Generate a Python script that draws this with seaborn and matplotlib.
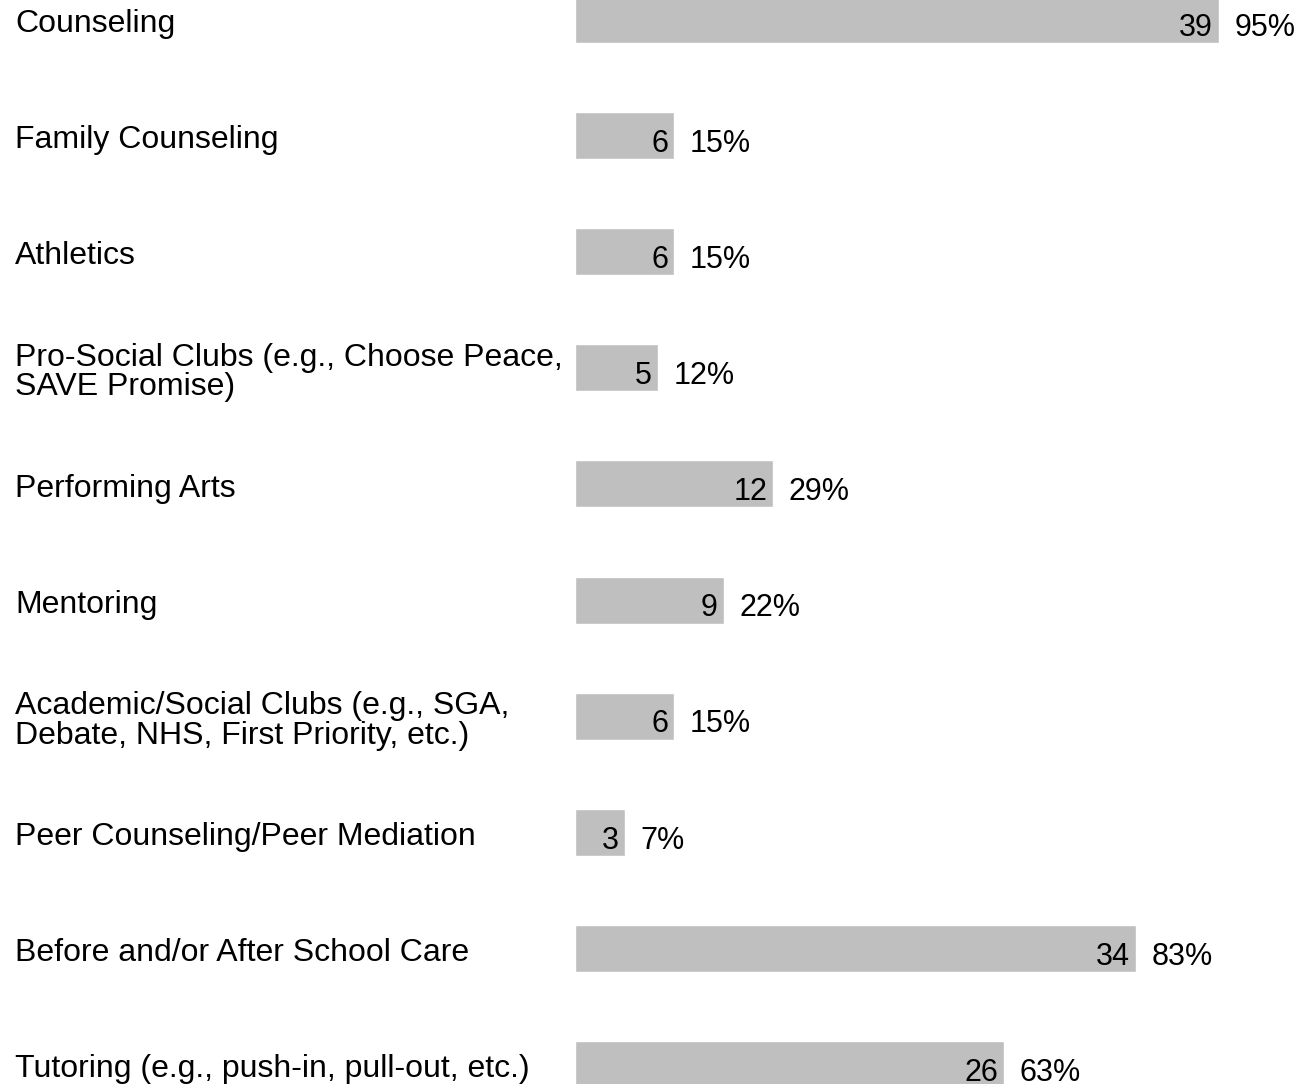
import matplotlib
matplotlib.use('Agg')
import matplotlib.pyplot as plt
import matplotlib.transforms as mtrans
import seaborn as sbn
import pandas as pd

programs = ['Counseling', 'Family Counseling', 'Athletics',
            'Pro-Social Clubs (e.g., Choose Peace,\nSAVE Promise)',
            'Performing Arts', 'Mentoring',
            'Academic/Social Clubs (e.g., SGA,\nDebate, NHS, First Priority, etc.)',
            'Peer Counseling/Peer Mediation', 'Before and/or After School Care',
            'Tutoring (e.g., push-in, pull-out, etc.)']
counts = [39, 6, 6, 5, 12, 9, 6, 3, 34, 26]
percents = [95, 15, 15, 12, 29, 22, 15, 7, 83, 63]

sbn.set_style('white')
plt.rcParams['font.family'] = ['Liberation Sans', 'DejaVu Sans']

df = pd.DataFrame({'Program': programs, 'Count': counts, 'Percent': percents})

fig = plt.figure(figsize=(13.01, 10.84), dpi=100)
ax = fig.add_axes([0, 0, 1, 1])
sbn.barplot(data=df, x='Count', y='Program', orient='h', color='#bfbfbf',
            saturation=1, width=0.405, ax=ax)

ax.set_xlim(-34.85, 44.0)
ax.set_ylim(9.168, -0.168)
ax.axis('off')

lbl = mtrans.blended_transform_factory(ax.transAxes, ax.transData)
for i, row in df.iterrows():
    ax.text(15 / 1301, i + 0.04, row['Program'], transform=lbl, ha='left', va='center',
            fontsize=23, linespacing=0.98, color='black')
    ax.text(row['Count'] - 0.36, i + 0.14, str(row['Count']), ha='right',
            va='baseline', fontsize=22, color='black')
    ax.text(row['Count'] + 0.95, i + 0.14, f"{row['Percent']}%", ha='left',
            va='baseline', fontsize=22, color='black')

fig.savefig('out.png', dpi=100)
